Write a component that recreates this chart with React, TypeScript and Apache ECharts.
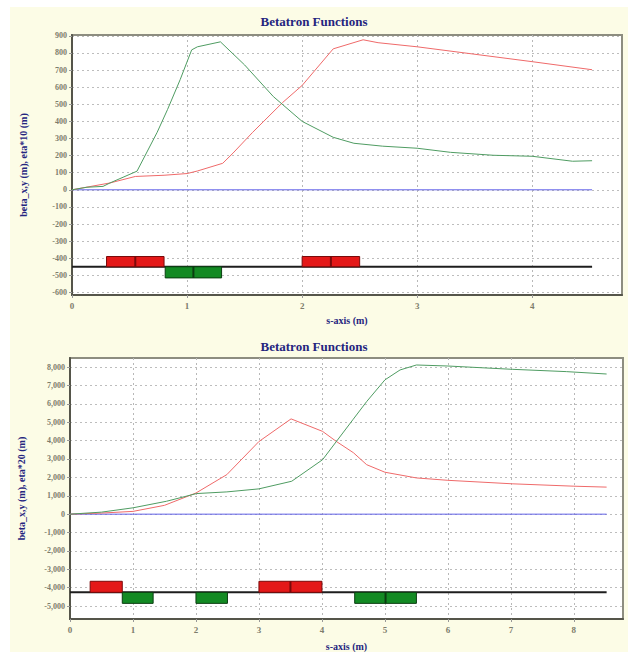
import React, { useEffect, useRef } from "react";
import * as echarts from "echarts";

// ---- Upper lattice (eta scaled x10) ----
const topRedS = [0, 0.33, 0.55, 0.8, 1.0, 1.09, 1.31, 1.4, 1.57, 1.83, 2.0, 2.27, 2.53, 2.66, 3.0, 4.0, 4.52];
const topRedBeta = [0, 40, 78, 85, 95, 110, 155, 215, 336, 510, 610, 824, 877, 860, 836, 749, 702];
const topGreenS = [0, 0.13, 0.27, 0.33, 0.565, 0.74, 0.83, 0.94, 1.04, 1.09, 1.29, 1.5, 1.75, 2.0, 2.27, 2.45, 2.7, 3.0, 3.29, 3.66, 4.0, 4.35, 4.52];
const topGreenBeta = [0, 15, 20, 40, 109, 336, 469, 644, 818, 836, 865, 730, 545, 400, 307, 272, 255, 243, 219, 202, 196, 167, 170];
const topEnd = 4.52;
const topYTicks = [900, 800, 700, 600, 500, 400, 300, 200, 100, 0, -100, -200, -300, -400, -500, -600];
const topXTicks = [0, 1, 2, 3, 4];
// focusing (red) and defocusing (green) quadrupoles: [start, end]
const topFocusing = [[0.3, 0.8], [2.0, 2.5]];
const topDefocusing = [[0.81, 1.3]];
const topBeamline = -450;
const topQuadUp = -390;
const topQuadDown = -515;

// ---- Lower lattice (eta scaled x20) ----
const botRedS = [0, 0.5, 1.0, 1.5, 2.0, 2.49, 3.0, 3.51, 4.01, 4.23, 4.5, 4.71, 5.0, 5.5, 6.0, 7.02, 8.0, 8.52];
const botRedBeta = [0, 60, 150, 480, 1150, 2150, 3950, 5180, 4500, 3950, 3340, 2690, 2280, 1970, 1840, 1650, 1520, 1470];
const botGreenS = [0, 0.5, 1.0, 1.53, 2.01, 2.49, 3.0, 3.52, 4.01, 4.49, 4.71, 5.0, 5.24, 5.5, 6.0, 7.02, 7.88, 8.52];
const botGreenBeta = [0, 110, 345, 700, 1120, 1210, 1375, 1790, 2960, 5130, 6120, 7300, 7840, 8110, 8055, 7875, 7750, 7620];
const botEnd = 8.52;
const botYTicks = [8000, 7000, 6000, 5000, 4000, 3000, 2000, 1000, 0, -1000, -2000, -3000, -4000, -5000];
const botXTicks = [0, 1, 2, 3, 4, 5, 6, 7, 8];
const botFocusing = [[0.32, 0.83], [3.0, 4.0]];
const botDefocusing = [[0.83, 1.32], [2.0, 2.5], [4.52, 5.5]];
const botBeamline = -4250;
const botQuadUp = -3650;
const botQuadDown = -4850;

const TITLE = "Betatron Functions";
const X_NAME = "s-axis (m)";
const TOP_Y_NAME = "beta_x,y (m), eta*10 (m)";
const BOT_Y_NAME = "beta_x,y (m), eta*20 (m)";

const SERIF = "'Liberation Serif', 'DejaVu Serif', serif";
const NAVY = "#25257f";
const TICK_COLOR = "#7d7d6c";
const RED_LINE = "#ef6a6a";
const GREEN_LINE = "#4f9c62";

const zip = (xs: number[], ys: number[]) => xs.map((x, i) => [x, ys[i]]);

function quadItems(spans: number[][], lo: number, hi: number) {
  return spans.map(([a, b]) => [a, b, lo, hi]);
}

function quadSeries(data: number[][], idx: number, fill: string, dark: string) {
  return {
    type: "custom",
    xAxisIndex: idx,
    yAxisIndex: idx,
    encode: { x: [0, 1], y: [2, 3] },
    data,
    z: 5,
    renderItem: (_params: any, api: any) => {
      const p0 = api.coord([api.value(0), api.value(3)]);
      const p1 = api.coord([api.value(1), api.value(2)]);
      const w = p1[0] - p0[0];
      const h = p1[1] - p0[1];
      const children: any[] = [
        {
          type: "rect",
          shape: { x: p0[0], y: p0[1], width: w, height: h },
          style: { fill, stroke: dark, lineWidth: 1 },
        },
      ];
      if (w > 40) {
        children.push({
          type: "rect",
          shape: { x: p0[0] + w / 2 - 1, y: p0[1], width: 2, height: h },
          style: { fill: dark },
        });
      }
      return { type: "group", children };
    },
  };
}

function xAxis(idx: number, max: number, ticks: number[], gap: number) {
  return {
    type: "value",
    gridIndex: idx,
    min: 0,
    max,
    name: X_NAME,
    nameLocation: "middle",
    nameGap: gap,
    nameTextStyle: { fontFamily: SERIF, fontWeight: "bold", fontSize: 10, color: NAVY },
    axisLine: { show: true, onZero: false, lineStyle: { color: "#55554a", width: 2 } },
    axisTick: { show: true, length: 3, customValues: ticks, lineStyle: { color: "#999" } },
    axisLabel: {
      customValues: ticks,
      fontFamily: SERIF,
      fontSize: 9,
      fontWeight: "bold",
      color: TICK_COLOR,
      margin: 6,
    },
    splitLine: { show: true, lineStyle: { color: "#b8b8b8", type: [2, 3], width: 1 } },
  };
}

function yAxis(idx: number, min: number, max: number, ticks: number[], name: string, fmt: (v: number) => string) {
  return {
    type: "value",
    gridIndex: idx,
    min,
    max,
    name,
    nameLocation: "middle",
    nameGap: 44,
    nameTextStyle: { fontFamily: SERIF, fontWeight: "bold", fontSize: 10, color: NAVY },
    axisLine: { show: true, onZero: false, lineStyle: { color: "#55554a", width: 2 } },
    axisTick: { show: true, length: 3, customValues: ticks, lineStyle: { color: "#999" } },
    axisLabel: {
      customValues: ticks,
      formatter: fmt,
      fontFamily: SERIF,
      fontSize: 8,
      fontWeight: "bold",
      color: TICK_COLOR,
      margin: 5,
    },
    splitLine: { show: true, lineStyle: { color: "#bdbdbd", type: [2, 3], width: 1 } },
  };
}

function lineSeries(idx: number, data: number[][], color: string, width = 1) {
  return {
    type: "line",
    xAxisIndex: idx,
    yAxisIndex: idx,
    data,
    showSymbol: false,
    symbol: "none",
    lineStyle: { color, width },
    z: 3,
  };
}

export default function App() {
  const ref = useRef<HTMLDivElement>(null);

  useEffect(() => {
    if (!ref.current) return;
    const chart = echarts.init(ref.current, null, { renderer: "svg" });
    const thousands = (v: number) => v.toLocaleString("en-US");
    chart.setOption({
      animation: false,
      backgroundColor: "transparent",
      title: [
        {
          text: TITLE,
          left: "center",
          top: 10,
          textStyle: { fontFamily: SERIF, fontWeight: "bold", fontSize: 13, color: NAVY },
        },
        {
          text: TITLE,
          left: "center",
          top: 335,
          textStyle: { fontFamily: SERIF, fontWeight: "bold", fontSize: 13, color: NAVY },
        },
      ],
      grid: [
        {
          left: 72,
          top: 35,
          width: 550,
          height: 260,
          show: true,
          backgroundColor: "#ffffff",
          borderColor: "#8d8d80",
          borderWidth: 2,
        },
        {
          left: 70,
          top: 358,
          width: 553,
          height: 262,
          show: true,
          backgroundColor: "#ffffff",
          borderColor: "#8d8d80",
          borderWidth: 2,
        },
      ],
      xAxis: [xAxis(0, 4.78, topXTicks, 20), xAxis(1, 8.78, botXTicks, 22)],
      yAxis: [
        yAxis(0, -615, 905, topYTicks, TOP_Y_NAME, (v) => String(v)),
        yAxis(1, -5700, 8490, botYTicks, BOT_Y_NAME, thousands),
      ],
      series: [
        lineSeries(0, [[0, 0], [topEnd, 0]], "#6262e8"),
        lineSeries(0, [[0, topBeamline], [topEnd, topBeamline]], "#1e1e1e", 2),
        lineSeries(0, zip(topRedS, topRedBeta), RED_LINE),
        lineSeries(0, zip(topGreenS, topGreenBeta), GREEN_LINE),
        quadSeries(quadItems(topFocusing, topBeamline, topQuadUp), 0, "#e41818", "#7a0a0a"),
        quadSeries(quadItems(topDefocusing, topQuadDown, topBeamline), 0, "#138a23", "#0a3d10"),

        lineSeries(1, [[0, 0], [botEnd, 0]], "#6262e8"),
        lineSeries(1, [[0, botBeamline], [botEnd, botBeamline]], "#1e1e1e", 2),
        lineSeries(1, zip(botRedS, botRedBeta), RED_LINE),
        lineSeries(1, zip(botGreenS, botGreenBeta), GREEN_LINE),
        quadSeries(quadItems(botFocusing, botBeamline, botQuadUp), 1, "#e41818", "#7a0a0a"),
        quadSeries(quadItems(botDefocusing, botQuadDown, botBeamline), 1, "#138a23", "#0a3d10"),
      ],
    });
    return () => chart.dispose();
  }, []);

  return (
    <div style={{ position: "absolute", left: 0, top: 0, width: 628, height: 652, background: "#ffffff" }}>
      <div style={{ position: "absolute", left: 10, top: 7, right: 0, bottom: 0, background: "#fcfce6" }} />
      <div ref={ref} style={{ position: "absolute", left: 0, top: 0, width: 628, height: 652 }} />
    </div>
  );
}
